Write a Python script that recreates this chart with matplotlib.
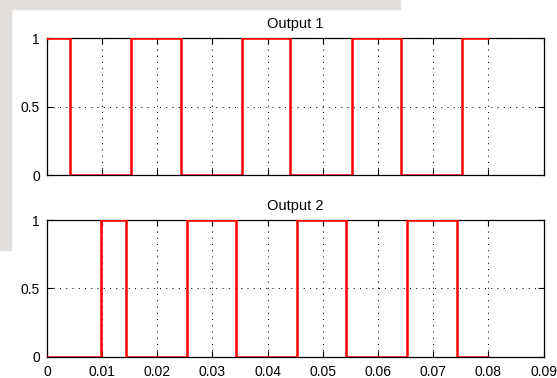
import matplotlib
matplotlib.use('Agg')
import matplotlib.pyplot as plt
from matplotlib.patches import Rectangle

plt.rcParams['font.family'] = ['Liberation Sans', 'DejaVu Sans']

# switching instants (s) and starting level for each output
t_end = 0.08
out1_edges = [0.0041, 0.0153, 0.0242, 0.0353, 0.0441, 0.0553, 0.0641, 0.0753]
out1_start = 1
out2_edges = [0.0097, 0.0143, 0.0253, 0.0342, 0.0454, 0.0542, 0.0653, 0.0743]
out2_start = 0

titles = ['Output 1', 'Output 2']
xticks = [0, 0.01, 0.02, 0.03, 0.04, 0.05, 0.06, 0.07, 0.08, 0.09]
xtick_labels = ['0', '0.01', '0.02', '0.03', '0.04', '0.05', '0.06', '0.07', '0.08', '0.09']
yticks = [0, 0.5, 1]
ytick_labels = ['0', '0.5', '1']


def square_wave(edges, start):
    t = [0.0]
    v = [start]
    level = start
    for e in edges:
        t += [e, e]
        v += [level, 1 - level]
        level = 1 - level
    t.append(t_end)
    v.append(level)
    return t, v


fig = plt.figure(figsize=(5.57, 3.78), dpi=100)
fig.patch.set_facecolor('white')

# faint page background around the screenshot
W, H = 557, 378
fig.patches.append(Rectangle((0, 1 - 9 / H), 400 / W, 9 / H, transform=fig.transFigure,
                             color='#e3dfdc', zorder=-1))
fig.patches.append(Rectangle((0, 1 - 250 / H), 11 / W, 250 / H, transform=fig.transFigure,
                             color='#e3dfdc', zorder=-1))

ax1 = fig.add_axes([47 / W, 1 - 175 / H, 496.5 / W, 137 / H])
ax2 = fig.add_axes([47 / W, 1 - 356.5 / H, 496.5 / W, 136.5 / H])

series = [square_wave(out1_edges, out1_start), square_wave(out2_edges, out2_start)]

for i, ax in enumerate([ax1, ax2]):
    t, v = series[i]
    ax.plot(t, v, color='#ff0000', lw=1.8, zorder=3)
    ax.set_xlim(0, 0.09)
    ax.set_ylim(0, 1)
    ax.set_xticks(xticks)
    ax.set_yticks(yticks)
    ax.set_yticklabels(ytick_labels)
    if i == 1:
        ax.set_xticklabels(xtick_labels)
    else:
        ax.set_xticklabels([])
    ax.tick_params(direction='in', length=4, width=0.8, top=True, right=True,
                   labelsize=10, colors='black')
    ax.tick_params(axis='x', pad=6)
    ax.tick_params(axis='y', pad=5)
    ax.grid(True, color='black', linestyle=(0, (1, 5)), lw=0.75)
    for s in ax.spines.values():
        s.set_linewidth(0.9)
        s.set_color('black')
    ax.set_title(titles[i], fontsize=10.5, pad=7)

fig.savefig('out.png', dpi=100)
